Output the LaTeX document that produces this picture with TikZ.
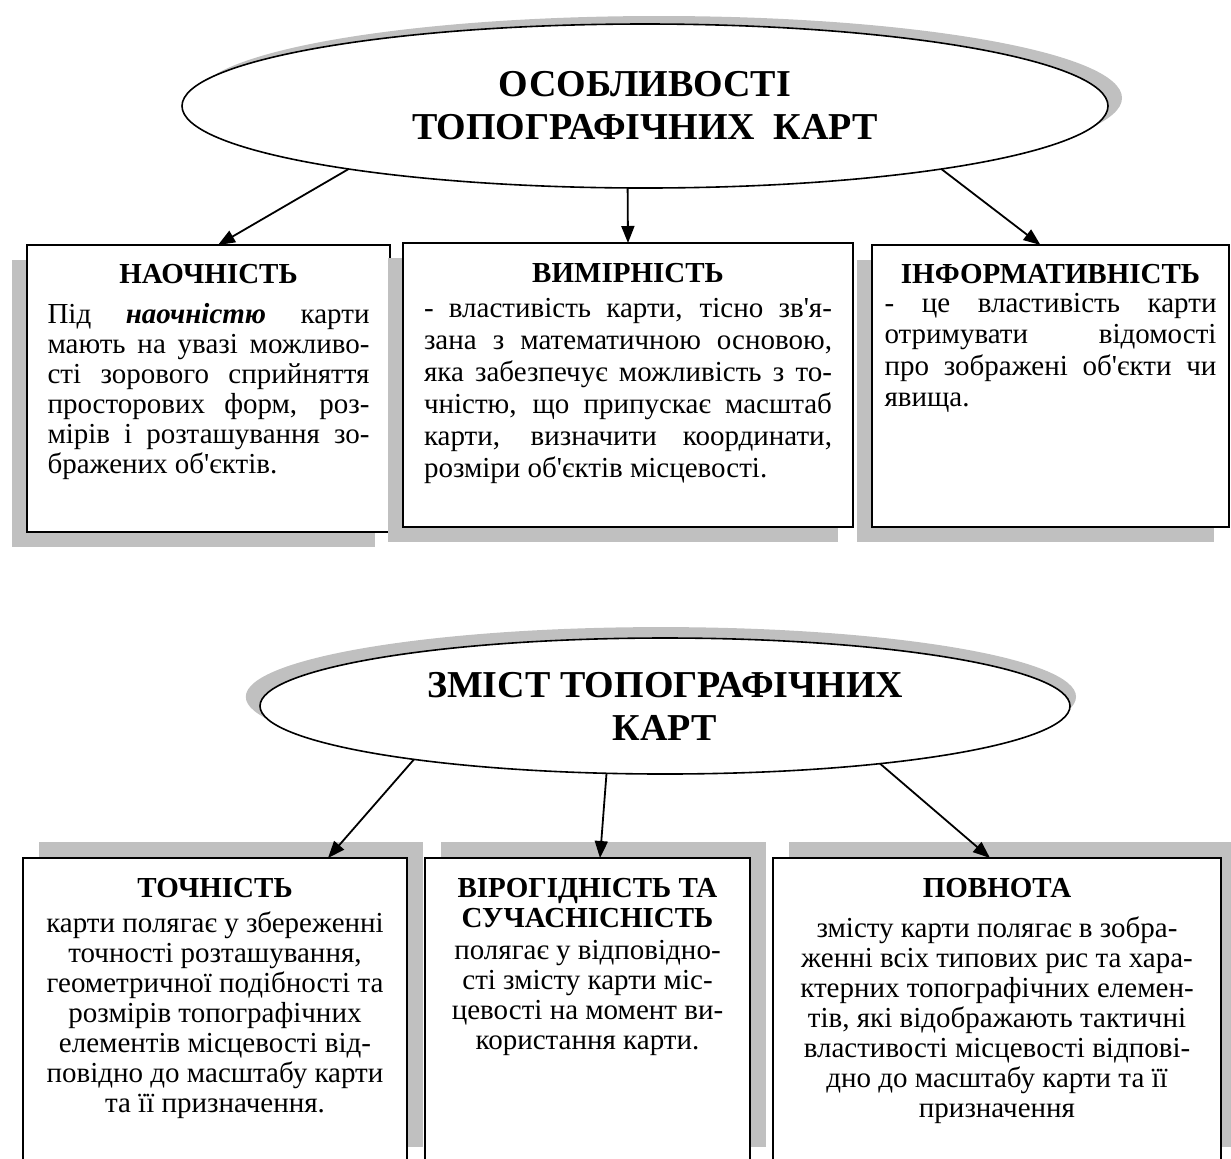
\documentclass[tikz,border=0pt]{standalone}
\usepackage{fontspec}
\setmainfont{Liberation Serif}
\usetikzlibrary{shapes.geometric,shadows,arrows.meta}

\definecolor{shade}{HTML}{C0C0C0}
\newcommand{\apos}{\textquotesingle}
\newcommand{\fullline}[1]{\makebox[\linewidth][s]{#1}\par}
\newcommand{\cardbody}[3]{\parbox[c][#1][t]{#2}{#3}}

\tikzset{
  topic/.style={ellipse, draw, line width=0.8pt, fill=white, outer sep=0pt,
    inner sep=0pt, align=center, font=\fontsize{19}{21.5}\selectfont\bfseries},
  card/.style={rectangle, draw, line width=1pt, fill=white, outer sep=0pt, inner ysep=0pt},
  upshadow/.style={general shadow={shadow xshift=-7.5pt, shadow yshift=-7.5pt, fill=shade}},
  downshadow/.style={general shadow={shadow xshift=8pt, shadow yshift=8pt, fill=shade}},
  link/.style={-{Triangle[length=8.5pt,width=6.5pt]}, line width=0.9pt}
}

\begin{document}
\begin{tikzpicture}[x=0.5pt,y=-0.5pt]
\useasboundingbox (0,0) rectangle (1231,1158);

\node[topic, minimum width=463pt, minimum height=82pt,
  general shadow={shadow xshift=7pt, shadow yshift=4pt, fill=shade}] (osob) at (645,106)
  {ОСОБЛИВОСТІ\\ТОПОГРАФІЧНИХ\ \ КАРТ};

\node[card, upshadow, anchor=north west, inner xsep=10.25pt] (naoch) at (27,245)
  {\cardbody{143.5pt}{161pt}{\fontsize{14.5}{15}\selectfont\vspace*{9.4pt}
   {\centering\textbf{НАОЧНІСТЬ}\par}\vspace{5pt}
   \fullline{Під \textbf{\textit{наочністю}} карти}
   \fullline{мають на увазі можливо-}
   \fullline{сті зорового сприйняття}
   \fullline{просторових форм, роз-}
   \fullline{мірів і розташування зо-}
   бражених об\apos єктів.}};

\node[card, upshadow, anchor=north west, inner xsep=10.5pt] (vymir) at (403,243)
  {\cardbody{142pt}{204pt}{\fontsize{14.5}{16}\selectfont\vspace*{9.9pt}
   {\centering\textbf{ВИМІРНІСТЬ}\par}\vspace{1.5pt}
   \fullline{- властивість карти, тісно зв\apos я-}
   \fullline{зана з математичною основою,}
   \fullline{яка забезпечує можливість з то-}
   \fullline{чністю, що припускає масштаб}
   \fullline{карти, визначити координати,}
   розміри об\apos єктів місцевості.}};

\node[card, upshadow, anchor=north west, inner xsep=6.25pt] (inform) at (872,245)
  {\cardbody{141pt}{166pt}{\fontsize{14.5}{15.75}\selectfont\vspace*{9.5pt}
   {\centering\textbf{ІНФОРМАТИВНІСТЬ}\par}\vspace{-1.25pt}
   \fullline{- це властивість карти}
   \fullline{отримувати відомості}
   \fullline{про зображені об\apos єкти чи}
   явища.}};

\draw[link] (osob.192) -- ([xshift=4.75pt]naoch.north);
\draw[link] (osob.258) -- (vymir.north);
\draw[link] (osob.348.5) -- ([xshift=-5pt]inform.north);

\node[topic, minimum width=405pt, minimum height=68pt,
  general shadow={shadow xshift=-2pt, shadow yshift=4.5pt, shadow scale=1.025, fill=shade}] (zmist) at (665,706)
  {ЗМІСТ ТОПОГРАФІЧНИХ\\КАРТ};

\node[card, downshadow, anchor=north west, inner xsep=3pt] (tochn) at (23,858)
  {\cardbody{152.5pt}{186pt}{\fontsize{14.5}{15}\selectfont\centering\vspace*{10pt}
   \textbf{ТОЧНІСТЬ}\par\vspace{2.5pt}
   карти полягає у збереженні\\
   точності розташування,\\
   геометричної подібності та\\
   розмірів топографічних\\
   елементів місцевості від-\\
   повідно до масштабу карти\\
   та її призначення.}};

\node[card, downshadow, anchor=north west, inner xsep=3pt] (virog) at (425,858)
  {\cardbody{152.5pt}{156.5pt}{\fontsize{14.5}{15}\selectfont\centering\vspace*{10pt}
   \textbf{ВІРОГІДНІСТЬ ТА\\СУЧАСНІСНІСТЬ}\par\vspace{1pt}
   полягає у відповідно-\\
   сті змісту карти міс-\\
   цевості на момент ви-\\
   користання карти.}};

\node[card, downshadow, anchor=north west, inner xsep=3pt] (povn) at (773,858)
  {\cardbody{152.5pt}{218pt}{\fontsize{14.5}{15}\selectfont\centering\vspace*{10pt}
   \textbf{ПОВНОТА}\par\vspace{5pt}
   змісту карти полягає в зобра-\\
   женні всіх типових рис та хара-\\
   ктерних топографічних елемен-\\
   тів, які відображають тактичні\\
   властивості місцевості відпові-\\
   дно до масштабу карти та її\\
   призначення}};

\draw[link] (zmist.192) -- ([xshift=56.5pt]tochn.north);
\draw[link] (zmist.229) -- ([xshift=6.25pt]virog.north);
\draw[link] (zmist.345) -- ([xshift=-3.5pt]povn.north);

\end{tikzpicture}
\end{document}
